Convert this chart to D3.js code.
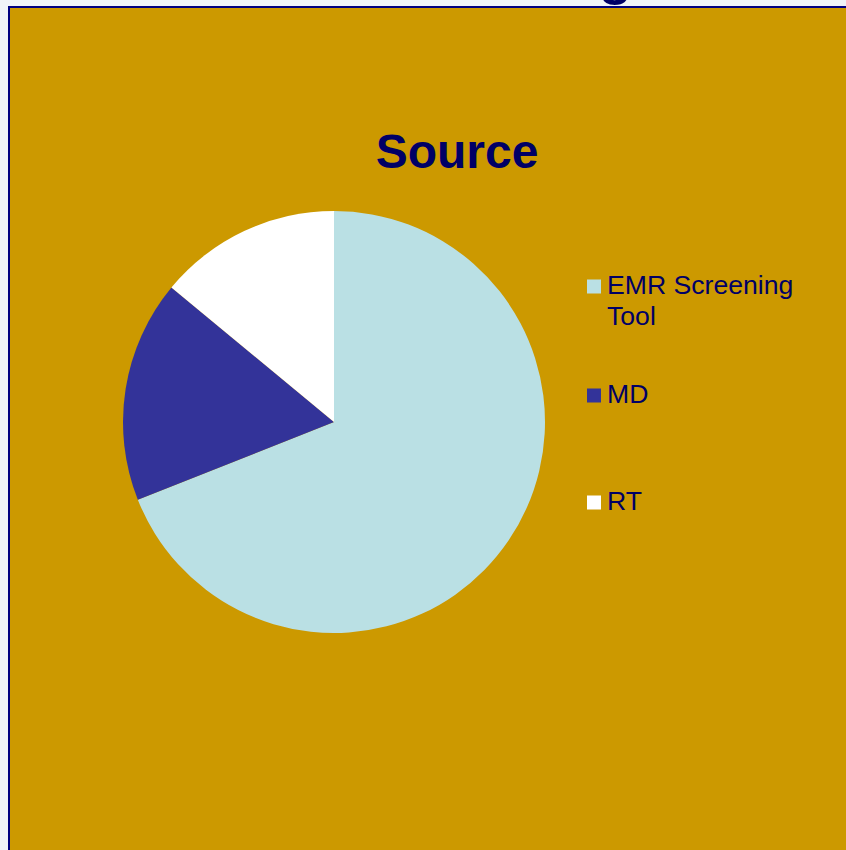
<!DOCTYPE html>
<html>
<head>
<meta charset="utf-8">
<script src="https://cdn.jsdelivr.net/npm/d3@7"></script>
<style>
  html, body { margin: 0; padding: 0; background: #F0F4F8; overflow: hidden; }
  svg { display: block; }
</style>
</head>
<body>
<svg id="chart" width="846" height="850"></svg>
<script>
// Share of referrals by source (percent)
const categories = ["EMR Screening Tool", "MD", "RT"];
const values = [69, 17, 14];
const sliceColors = ["#BAE0E4", "#333399", "#FFFFFF"];
const legendLines = [["EMR Screening", "Tool"], ["MD"], ["RT"]];
const chartTitle = "Source";
const pageHeading = "Screening";

const svg = d3.select("#chart");
const navy = "#000066";

// Slide panel with a navy frame running off the right and bottom edges
svg.append("rect")
  .attr("x", 9).attr("y", 7)
  .attr("width", 900).attr("height", 900)
  .attr("fill", "#CC9900")
  .attr("stroke", "#000080")
  .attr("stroke-width", 2);

// Page heading sitting above the panel; only its descender shows
svg.append("text")
  .attr("x", 632).attr("y", -6)
  .attr("text-anchor", "end")
  .attr("font-family", "Liberation Sans, Arial, sans-serif")
  .attr("font-weight", "bold")
  .attr("font-size", 54)
  .attr("fill", navy)
  .text(pageHeading);

// Chart title
svg.append("text")
  .attr("x", 457).attr("y", 168)
  .attr("text-anchor", "middle")
  .attr("font-family", "Liberation Sans, Arial, sans-serif")
  .attr("font-weight", "bold")
  .attr("font-size", 48)
  .attr("fill", navy)
  .text(chartTitle);

// Pie, starting at twelve o'clock and running clockwise
const cx = 334, cy = 422, radius = 211;
const color = d3.scaleOrdinal().domain(categories).range(sliceColors);
const pie = d3.pie().sort(null).value(d => d.value);
const arc = d3.arc().innerRadius(0).outerRadius(radius);
const data = categories.map((c, i) => ({ name: c, value: values[i] }));

svg.append("g")
  .attr("transform", `translate(${cx},${cy})`)
  .selectAll("path")
  .data(pie(data))
  .join("path")
  .attr("d", arc)
  .attr("fill", d => color(d.data.name));

// Legend
const legendX = 587;
const legendBaselines = [294, 403, 510];
const legend = svg.append("g");
categories.forEach((c, i) => {
  const by = legendBaselines[i];
  legend.append("rect")
    .attr("x", legendX).attr("y", by - 14.5)
    .attr("width", 14).attr("height", 14)
    .attr("fill", color(c));
  const t = legend.append("text")
    .attr("x", legendX + 20).attr("y", by)
    .attr("font-family", "Liberation Sans, Arial, sans-serif")
    .attr("font-size", 26.6)
    .attr("fill", navy);
  legendLines[i].forEach((line, j) => {
    t.append("tspan")
      .attr("x", legendX + 20)
      .attr("dy", j === 0 ? 0 : 30.5)
      .text(line);
  });
});
</script>
</body>
</html>
